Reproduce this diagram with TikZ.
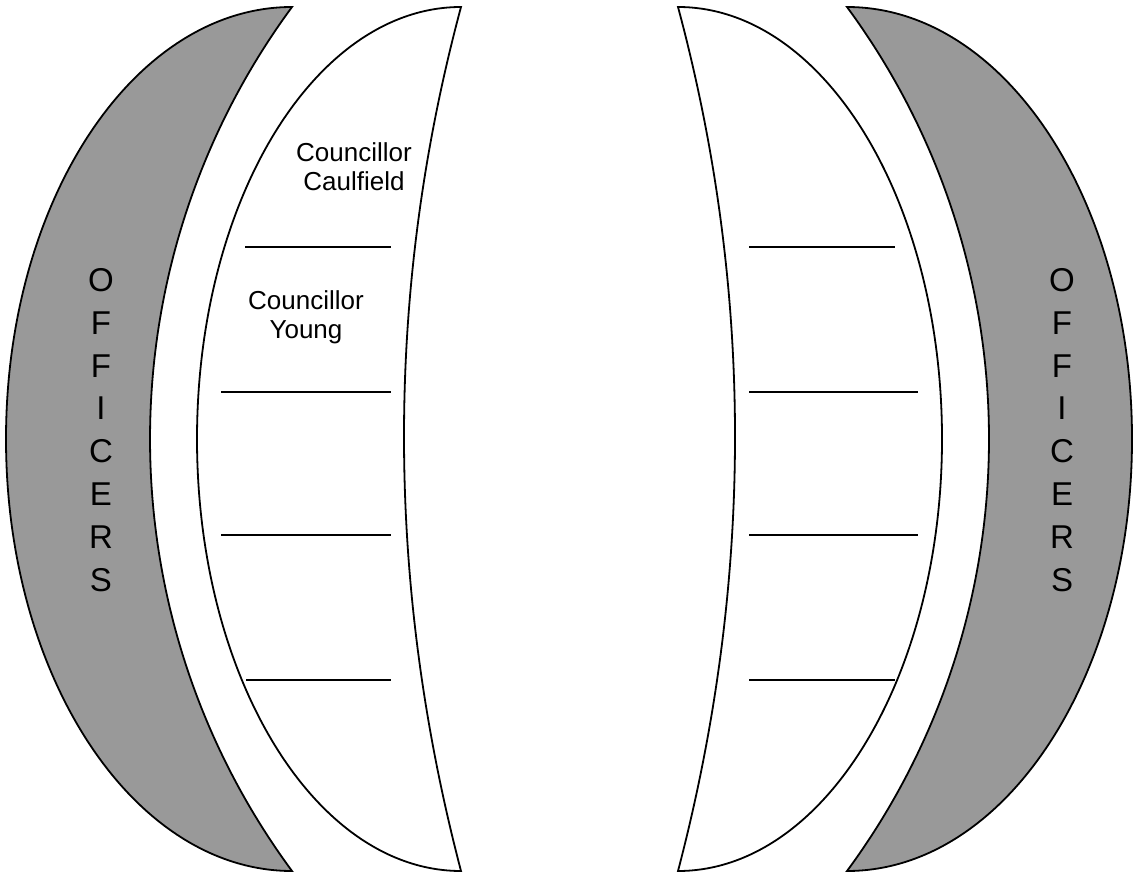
\documentclass[tikz,border=0pt]{standalone}
\usepackage{fontspec}
\setmainfont{Liberation Sans}
\usepackage{tikz}
\usetikzlibrary{positioning}
\definecolor{Ogray}{RGB}{153, 153, 153}
\tikzset{
    offshape/.style={
        fill=Ogray, draw=black, line width=0.9pt
    },
    benchshape/.style={
        fill=white, draw=black, line width=0.9pt
    },
    seatline/.style={line width=0.9pt, black},
    cname/.style={
        align=center, inner sep=0pt,
        font=\fontsize{13}{14.4}\selectfont
    },
    olabel/.style={
        align=center, inner sep=0pt,
        font=\fontsize{16.5}{21.43}\selectfont
    },
}

\begin{document}
\begin{tikzpicture}[x=0.5pt, y=-0.5pt]

    \useasboundingbox (0,0) rectangle (1133,876);

    % left side
    \draw [offshape] (292,7) .. controls (134,7) and (6,200.4) .. (6,439)
        .. controls (6,677.6) and (134,871) .. (292,871)
        .. controls (102.7,614.1) and (102.7,263.9) .. (292,7) -- cycle;
    \draw [benchshape] (461,7) .. controls (315.2,7) and (197,200.4) .. (197,439)
        .. controls (197,677.6) and (315.2,871) .. (461,871)
        .. controls (385,581) and (385,290) .. (461,7) -- cycle;

    % right side
    \draw [benchshape] (678,7) .. controls (823.8,7) and (942,200.4) .. (942,439)
        .. controls (942,677.6) and (823.8,871) .. (678,871)
        .. controls (754,581) and (754,290) .. (678,7) -- cycle;
    \draw [offshape] (847,7) .. controls (1004.4,7) and (1132,200.4) .. (1132,439)
        .. controls (1132,677.6) and (1004.4,871) .. (847,871)
        .. controls (1036.3,614.1) and (1036.3,263.9) .. (847,7) -- cycle;

    % seats
    \draw [seatline] (245,247) -- (391,247);
    \draw [seatline] (221,392) -- (391,392);
    \draw [seatline] (221,535) -- (391,535);
    \draw [seatline] (246,680) -- (391,680);

    \draw [seatline] (749,247) -- (895,247);
    \draw [seatline] (749,392) -- (918,392);
    \draw [seatline] (749,535) -- (918,535);
    \draw [seatline] (749,680) -- (895,680);

    \node [cname] (caulfield) at (354,167) {Councillor\\Caulfield};
    \node [cname] (young) at (306,317) {Councillor\\Young};

    \node [olabel] (offL) at (101,430) {O\\F\\F\\I\\C\\E\\R\\S};
    \node [olabel] (offR) at (1062,430) {O\\F\\F\\I\\C\\E\\R\\S};

\end{tikzpicture}
\end{document}
